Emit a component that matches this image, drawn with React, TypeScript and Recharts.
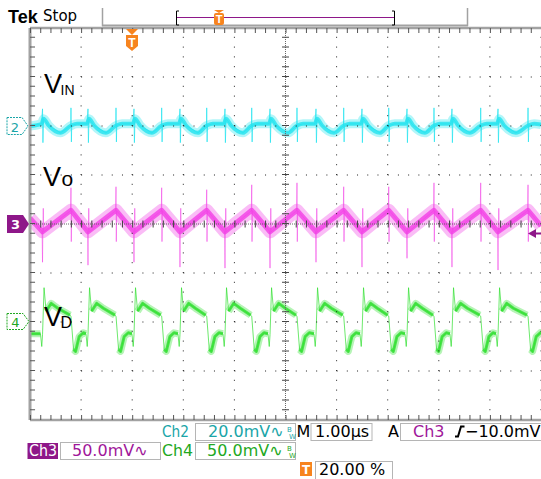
import { ComposedChart, Line, XAxis, YAxis, ReferenceLine } from "recharts"

// 1.00 µs/div, 10 divisions across; y in divisions (8 tall)
const RISE_US = [0.245, 1.135, 2.035, 2.935, 3.816, 4.697, 5.597, 6.497, 7.378, 8.258, 9.159]
const FALL_US = [0.802, 1.683, 2.577, 3.458, 4.339, 5.225, 6.139, 7.02, 7.906, 8.82, 9.746]

// channel scale (mV/div) and screen offset (div)
const CH2 = { scale: 20, offset: 2 } // V_IN
const CH3 = { scale: 50, offset: 0 } // Vo
const CH4 = { scale: 50, offset: -2 } // V_D

// V_IN ripple: [dt µs, mV, spike?]
const VIN_START = 0
const VIN_END = 0.6
const VIN_AT_RISE: [number, number, number][] = [
  [-0.02, 0.9, 0], [0, 7, 1], [0.008, -6.8, 1], [0.02, 3.0, 0], [0.12, 0.2, 0], [0.35, -2.8, 0],
]
const VIN_AT_FALL: [number, number, number][] = [
  [-0.005, 0.1, 0], [0, 7.4, 1], [0.008, -6.5, 1], [0.015, 0.3, 0], [0.12, 0.9, 0],
]

// Vo triangle ripple, mV
const VO_START = 6
const VO_END = -2
const VO_LEVELS = [-8, 14] // at rise, at fall
const VO_RISE_DIP = [-39, -42, -39, -44, -45, -45, -39, -44, -35, -44, -47]
const VO_FALL_PEAK = [37, 38, 37, 35, 40, 42, 38, 38, 42, 42, 40]
const VO_KICKS = [16, -18] // small opposite spikes at rise / fall

// V_D switch node, mV
const VD_LOW = -12
const VD_PRE_RISE: [number, number][] = [[-0.04, -12], [-0.015, -25]]
const VD_HIGH: [number, number][] = [[0, -13], [0.03, 35], [0.07, 11], [0.12, 15], [0.17, 19], [0.3, 14]]
const VD_HIGH_END = 7
const VD_LOW_SHAPE: [number, number][] = [[0, 6], [0.05, -28], [0.09, -30], [0.16, -15], [0.24, -11]]

type Pt = { t: number; v: number | null }
const toDiv = (mv: number, ch: { scale: number; offset: number }) => ch.offset + mv / ch.scale

function buildVin() {
  const band: Pt[] = []
  const thin: Pt[] = []
  const add = (t: number, mv: number, spike: boolean) => {
    const v = toDiv(mv, CH2)
    thin.push({ t, v })
    if (!spike) band.push({ t, v })
  }
  add(0, VIN_START, false)
  RISE_US.forEach((r, i) => {
    VIN_AT_RISE.forEach(([dt, mv, s]) => add(r + dt, mv, s === 1))
    VIN_AT_FALL.forEach(([dt, mv, s]) => add(FALL_US[i] + dt, mv, s === 1))
  })
  add(10, VIN_END, false)
  return { band, thin }
}

function buildVo() {
  const band: Pt[] = []
  const thin: Pt[] = []
  const p = (t: number, mv: number): Pt => ({ t, v: toDiv(mv, CH3) })
  band.push(p(0, VO_START))
  thin.push(p(0, VO_START))
  RISE_US.forEach((r, i) => {
    const f = FALL_US[i]
    band.push(p(r, VO_LEVELS[0]))
    thin.push(p(r - 0.008, VO_LEVELS[0] + 0.5), p(r, VO_RISE_DIP[i]), p(r + 0.006, VO_LEVELS[0] - 0.5),
      p(r + 0.015, VO_KICKS[0]), p(r + 0.024, VO_LEVELS[0]))
    band.push(p(f, VO_LEVELS[1]))
    thin.push(p(f - 0.008, VO_LEVELS[1] - 0.5), p(f, VO_FALL_PEAK[i]), p(f + 0.006, VO_KICKS[1]),
      p(f + 0.014, VO_LEVELS[1] - 0.5))
  })
  band.push(p(10, VO_END))
  thin.push(p(10, VO_END))
  return { band, thin }
}

function buildVd() {
  const band: Pt[] = []
  const thin: Pt[] = []
  const add = (t: number, mv: number, inBand: boolean) => {
    const v = toDiv(mv, CH4)
    thin.push({ t, v })
    band.push({ t, v: inBand ? v : null })
  }
  add(0, VD_LOW, true)
  RISE_US.forEach((r, i) => {
    const f = FALL_US[i]
    VD_PRE_RISE.forEach(([dt, mv]) => add(r + dt, mv, dt < -0.03))
    VD_HIGH.forEach(([dt, mv]) => add(r + dt, mv, dt >= 0.07))
    add(f - 0.02, VD_HIGH_END, true)
    VD_LOW_SHAPE.forEach(([dt, mv]) => add(f + dt, mv, dt >= 0.05))
  })
  add(10, VD_LOW, true)
  return { band, thin }
}

const vin = buildVin()
const vo = buildVo()
const vd = buildVd()

const GRID_X = [1, 2, 3, 4, 6, 7, 8, 9, 10]
const GRID_Y = [-3, -2, -1, 1, 2, 3]

const CYAN = "#22e4ef"
const MAGENTA = "#f23fe6"
const GREEN = "#2fdf2f"
const DOT = "#1e1e1e"
const FRAME = "#a2a2a2"
const CH2_TXT = "#1aa5a8"
const CH3_TXT = "#a0179a"
const CH3_BG = "#8e1789"
const CH4_TXT = "#22a822"
const ORANGE = "#f7841e"
const STATUS_FONT = "DejaVu Sans, sans-serif"
const LABEL_FONT = "Liberation Sans, Arial, sans-serif"

function Trace({ band, thin, color, wide, core, curve, spikeOpacity }: {
  band: Pt[]; thin: Pt[]; color: string; wide: number; core: number; curve: "linear" | "monotone"; spikeOpacity: number
}) {
  return (
    <>
      <Line data={band} dataKey="v" type={curve} stroke={color} strokeOpacity={0.35} strokeWidth={wide} dot={false}
        isAnimationActive={false} strokeLinejoin="round" />
      <Line data={band} dataKey="v" type={curve} stroke={color} strokeOpacity={0.8} strokeWidth={core} dot={false}
        isAnimationActive={false} strokeLinejoin="round" />
      <Line data={thin} dataKey="v" stroke={color} strokeOpacity={spikeOpacity} strokeWidth={1} dot={false}
        isAnimationActive={false} />
    </>
  )
}

function Overlay() {
  return (
    <svg width={541} height={479} style={{ position: "absolute", left: 0, top: 0 }}>
      {/* header */}
      <text x={8} y={23} fontFamily={LABEL_FONT} fontWeight="bold" fontSize={18}>Tek</text>
      <text x={43} y={21} fontFamily={STATUS_FONT} fontSize={15}>Stop</text>
      <line x1={102.5} y1={8} x2={102.5} y2={26} stroke={FRAME} strokeWidth={1.5} />
      <line x1={467.5} y1={8} x2={467.5} y2={26} stroke={FRAME} strokeWidth={1.5} />
      <line x1={102} y1={25.5} x2={468} y2={25.5} stroke={FRAME} strokeWidth={2} />
      <path d="M179 11 H176.5 V25 H179" stroke="#000" fill="none" />
      <path d="M392 11 H394.5 V25 H392" stroke="#000" fill="none" />
      <line x1={177} y1={17.5} x2={394} y2={17.5} stroke={CH3_BG} strokeWidth={1.2} />
      <polygon points="214,10 224,10 219,13" fill={ORANGE} />
      <rect x={214} y={13} width={10} height={12} rx={2} fill={ORANGE} />
      <text x={219} y={23} textAnchor="middle" fontFamily={LABEL_FONT} fontWeight="bold" fontSize={11} fill="#fff">T</text>

      {/* trigger position */}
      <polygon points="126,29 138,29 132,35" fill={ORANGE} />
      <path d="M126 35 H138 V46 L132 51 L126 46 Z" fill={ORANGE} />
      <text x={132} y={47} textAnchor="middle" fontFamily={LABEL_FONT} fontWeight="bold" fontSize={12} fill="#fff">T</text>

      {/* channel markers */}
      <path d="M7 117.5 H22 L28 126 L22 134.5 H7 Z" fill="#fff" stroke={CH2_TXT} strokeDasharray="2 1" />
      <text x={15} y={131.5} textAnchor="middle" fontFamily={STATUS_FONT} fontSize={13} fill={CH2_TXT}>2</text>
      <path d="M7 215 H23 L29 224 L23 233 H7 Z" fill={CH3_BG} />
      <text x={15.5} y={229} textAnchor="middle" fontFamily={STATUS_FONT} fontWeight="bold" fontSize={13} fill="#fff">3</text>
      <path d="M7 313.5 H23 L29 321.5 L23 329.5 H7 Z" fill="#fff" stroke={CH4_TXT} strokeDasharray="2 1" />
      <text x={15.5} y={327} textAnchor="middle" fontFamily={STATUS_FONT} fontSize={13} fill={CH4_TXT}>4</text>
      <polygon points="528,233.5 536,229 536,238" fill={CH3_BG} />
      <line x1={535} y1={233.5} x2={541} y2={233.5} stroke={CH3_BG} strokeWidth={2} />

      {/* trace labels */}
      <text x={44} y={93} fontFamily={LABEL_FONT} fontSize={27}>V</text>
      <text x={60.5} y={95} fontFamily={LABEL_FONT} fontSize={14}>IN</text>
      <text x={43} y={186} fontFamily={LABEL_FONT} fontSize={27}>V</text>
      <text x={61.5} y={186} fontFamily={LABEL_FONT} fontSize={21}>o</text>
      <text x={44} y={326} fontFamily={LABEL_FONT} fontSize={27}>V</text>
      <text x={60.5} y={328} fontFamily={LABEL_FONT} fontSize={16}>D</text>

      {/* status line 1 */}
      <g fontFamily={STATUS_FONT} fontSize={16}>
        <text x={162} y={437} fill={CH2_TXT} textLength={27} lengthAdjust="spacingAndGlyphs">Ch2</text>
        <rect x={195.5} y={423.5} width={100} height={17} fill="none" stroke="#b5b5b5" />
        <text x={208} y={437} fill={CH2_TXT}>20.0mV∿</text>
        <text x={287} y={432} fill={CH2_TXT} fontSize={7}>B</text>
        <text x={289} y={439} fill={CH2_TXT} fontSize={7}>W</text>
        <text x={296.5} y={437} fill="#000">M</text>
        <rect x={311} y={423.5} width={61} height={17} fill="none" stroke="#b5b5b5" />
        <text x={315} y={437} fill="#000">1.00µs</text>
        <text x={388} y={437} fill="#000">A</text>
        <rect x={400.5} y={423.5} width={150} height={17} fill="none" stroke="#b5b5b5" />
        <text x={413} y={437} fill={CH3_TXT}>Ch3</text>
        <path d="M455 436.5 H458 L461 426.5 H464.5" stroke="#000" strokeWidth={2} fill="none" />
        <text x={465} y={437} fill="#000">−10.0mV</text>

        {/* status line 2 */}
        <rect x={27.5} y={443} width={30.5} height={16} fill={CH3_BG} />
        <text x={29} y={456} fill="#fff" textLength={28} lengthAdjust="spacingAndGlyphs">Ch3</text>
        <rect x={60.5} y={442.5} width={100} height={17} fill="none" stroke="#b5b5b5" />
        <text x={72} y={456} fill={CH3_TXT}>50.0mV∿</text>
        <text x={162} y={456} fill={CH4_TXT} textLength={31} lengthAdjust="spacingAndGlyphs">Ch4</text>
        <rect x={195.5} y={442.5} width={100} height={17} fill="none" stroke="#b5b5b5" />
        <text x={207} y={456} fill={CH4_TXT}>50.0mV∿</text>
        <text x={287} y={451} fill={CH4_TXT} fontSize={7}>B</text>
        <text x={289} y={458} fill={CH4_TXT} fontSize={7}>W</text>

        {/* status line 3 */}
        <rect x={300} y={462} width={12} height={14} fill={ORANGE} />
        <text x={306} y={474} textAnchor="middle" fill="#fff" fontSize={12} fontWeight="bold">T</text>
        <rect x={315.5} y={461.5} width={77} height={18} fill="none" stroke="#b5b5b5" />
        <text x={319} y={475} fill="#000">20.00 %</text>
      </g>
    </svg>
  )
}

export default function App() {
  return (
    <div style={{ position: "fixed", left: 0, top: 0, width: 541, height: 479, overflow: "hidden", background: "#fff" }}>
      <div style={{ position: "absolute", left: 0, top: 0 }}>
        <ComposedChart width={541} height={479} margin={{ top: 28, right: 0, bottom: 59, left: 30 }}>
          <XAxis dataKey="t" type="number" domain={[0, 10]} hide allowDataOverflow />
          <YAxis type="number" domain={[-4, 4]} hide allowDataOverflow />

          <Trace band={vin.band} thin={vin.thin} color={CYAN} wide={9} core={4} curve="monotone" spikeOpacity={0.7} />
          <Trace band={vo.band} thin={vo.thin} color={MAGENTA} wide={13} core={5} curve="linear" spikeOpacity={0.55} />
          <Trace band={vd.band} thin={vd.thin} color={GREEN} wide={7} core={3} curve="linear" spikeOpacity={0.7} />

          {GRID_X.map((x) => (
            <ReferenceLine key={"gx" + x} x={x} stroke={DOT} strokeDasharray="1 8.8" />
          ))}
          {GRID_Y.map((y) => (
            <ReferenceLine key={"gy" + y} y={y} stroke={DOT} strokeDasharray="1 9.22" />
          ))}
          <ReferenceLine x={5} stroke="#666" strokeDasharray="1 1" />
          <ReferenceLine x={5} stroke="#444" strokeWidth={7} strokeDasharray="1 8.8" />
          <ReferenceLine y={0} stroke="#666" strokeDasharray="1 1" />
          <ReferenceLine y={0} stroke="#444" strokeWidth={7} strokeDasharray="1 9.22" />

          <ReferenceLine x={0} stroke={FRAME} strokeWidth={3} />
          <ReferenceLine x={0.05} stroke="#555" strokeWidth={5} strokeDasharray="1 8.8" />
          <ReferenceLine y={4} stroke={FRAME} strokeWidth={2.5} />
          <ReferenceLine y={3.95} stroke="#555" strokeWidth={5} strokeDasharray="1 9.22" />
          <ReferenceLine y={-4} stroke={FRAME} strokeWidth={2.5} />
          <ReferenceLine y={-3.95} stroke="#555" strokeWidth={5} strokeDasharray="1 9.22" />
        </ComposedChart>
      </div>
      <Overlay />
    </div>
  )
}
